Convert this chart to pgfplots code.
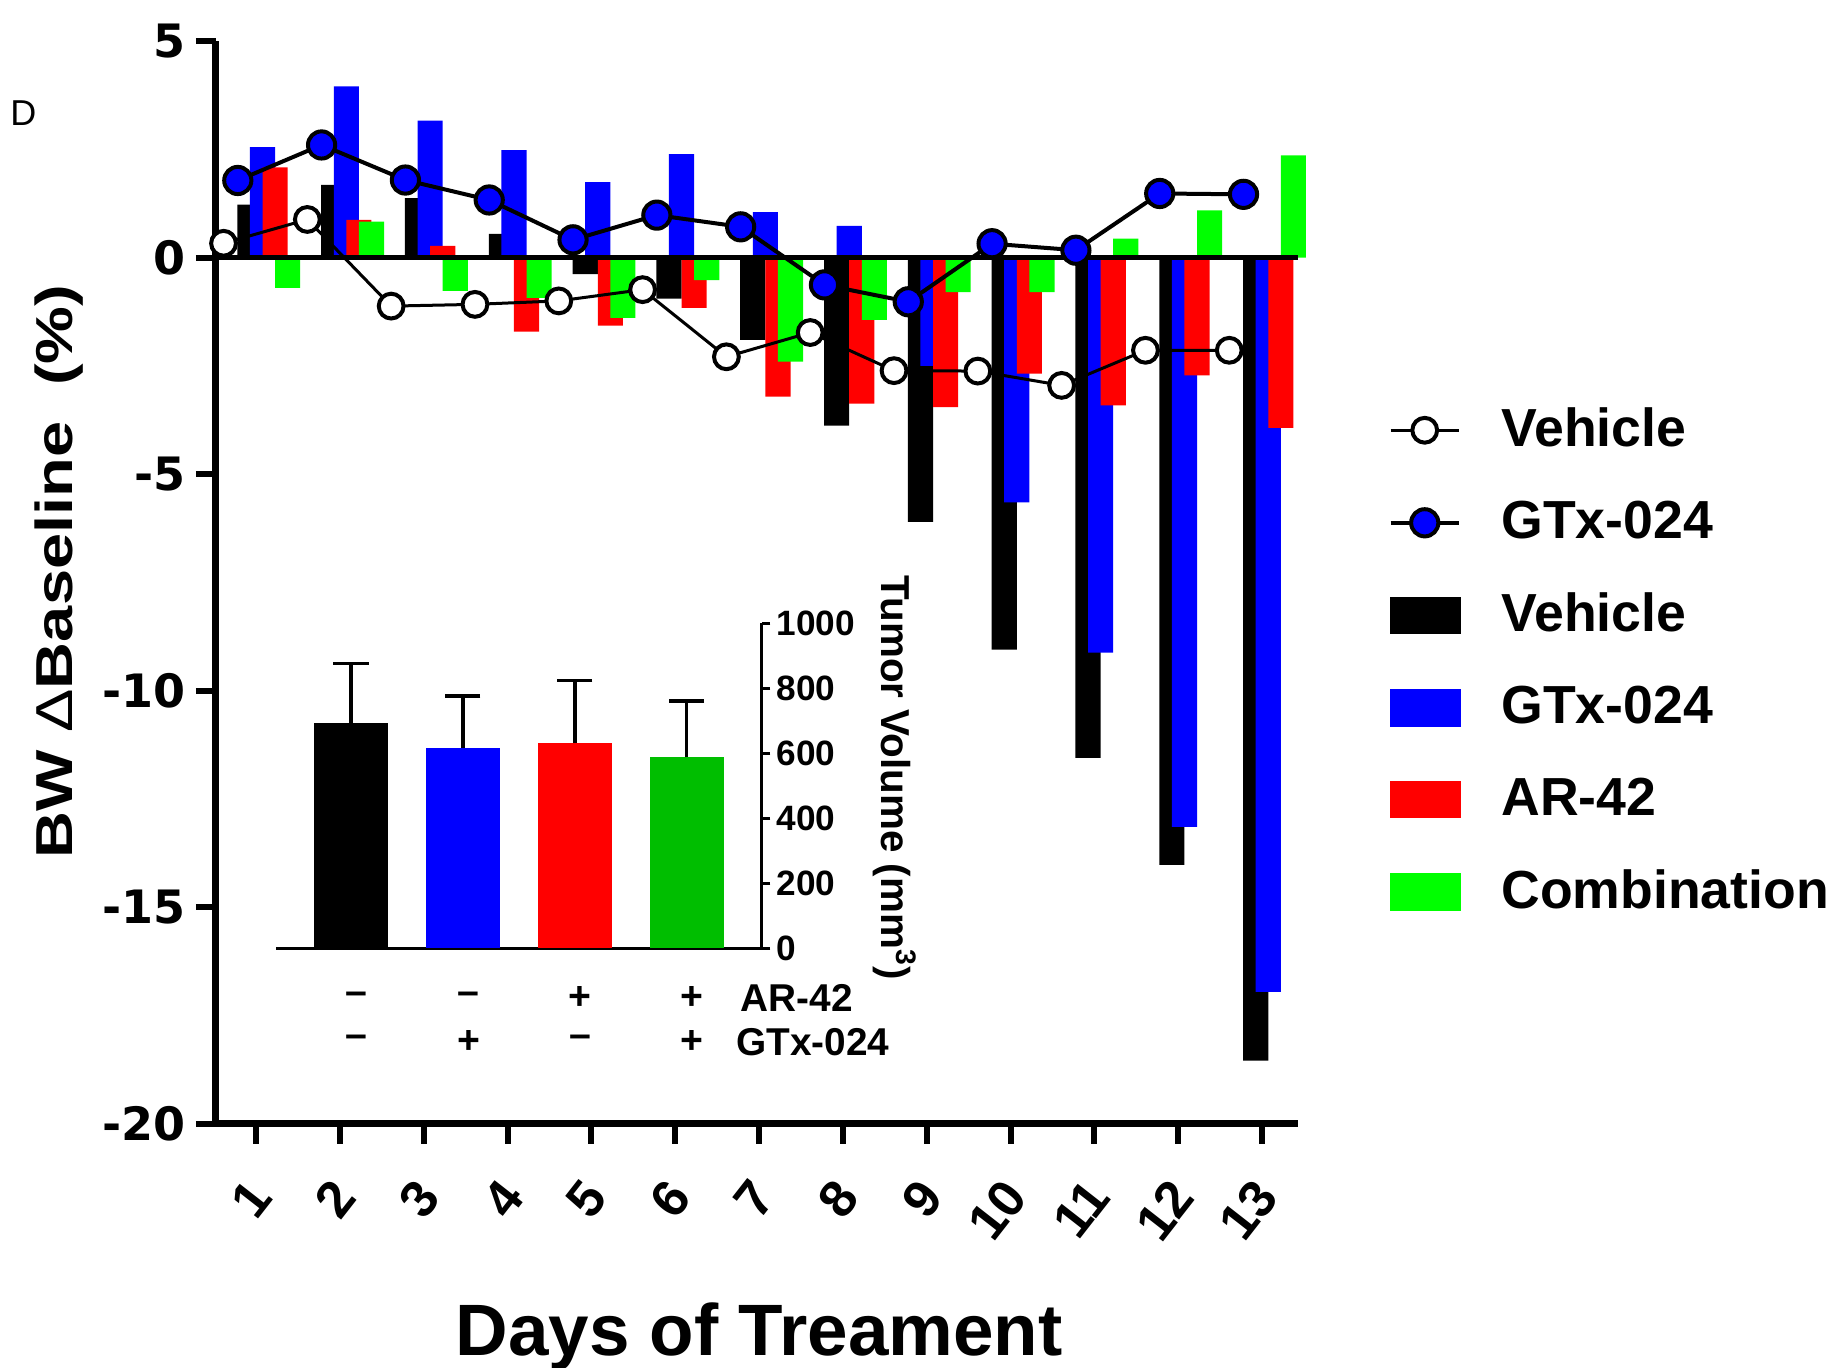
\documentclass[border=0pt]{standalone}
\usepackage{fontspec}
\setmainfont{Liberation Sans}
\newfontfamily\dejavu{DejaVu Sans}
\usepackage{pgfplots}
\pgfplotsset{compat=1.18}
\usepackage{pgfplotstable}

\definecolor{cblue}{RGB}{0,0,255}
\definecolor{cred}{RGB}{255,0,0}
\definecolor{cgreen}{RGB}{0,255,0}
\definecolor{igreen}{RGB}{0,190,0}

\pgfplotstableread{
day veh gtx
1 0.33 1.78
2 0.88 2.60
3 -1.12 1.79
4 -1.08 1.33
5 -1.00 0.41
6 -0.74 0.98
7 -2.29 0.71
8 -1.73 -0.63
9 -2.61 -1.02
10 -2.62 0.32
11 -2.95 0.17
12 -2.14 1.48
13 -2.14 1.46
}\linedata

\pgfplotstableread{
day black blue red green
1 1.22 2.55 2.08 -0.70
2 1.68 3.95 0.87 0.83
3 1.37 3.16 0.27 -0.77
4 0.55 2.48 -1.71 -0.93
5 -0.38 1.74 -1.57 -1.39
6 -0.95 2.39 -1.16 -0.52
7 -1.90 1.05 -3.21 -2.40
8 -3.88 0.73 -3.37 -1.44
9 -6.10 -2.50 -3.45 -0.80
10 -9.05 -5.65 -2.68 -0.80
11 -11.55 -9.12 -3.41 0.44
12 -14.02 -13.14 -2.72 1.09
13 -18.54 -16.95 -3.93 2.36
}\bardata

\begin{document}
\begin{tikzpicture}
\begin{axis}[
  at={(54pt,61pt)}, anchor=south west,
  scale only axis, width=270.5pt, height=270.75pt,
  xmin=0.52, xmax=13.43, ymin=-20, ymax=5,
  axis x line*=bottom, axis y line*=left,
  axis line style={-, line width=1.75pt},
  xtick={1,2,3,4,5,6,7,8,9,10,11,12,13},
  xticklabels={1,2,3,4,5,6,7,8,9,10,11,12,13},
  ytick={-20,-15,-10,-5,0,5},
  yticklabels={-20,-15,-10,-5,0,5},
  tick align=outside, major tick length=5pt,
  tick style={line width=1.5pt, black},
  yticklabel style={font=\dejavu\bfseries\fontsize{11.5}{12}\selectfont, inner sep=0pt, xshift=-2.3pt},
  xticklabel style={font=\bfseries\fontsize{13}{14}\selectfont, rotate=52, anchor=east, inner sep=0pt, yshift=-7.5pt, xshift=-7.7pt},
  xlabel={Days of Treament},
  xlabel style={at={(axis description cs:0.502,-0.196)}, anchor=center, font=\bfseries\fontsize{18.2}{21}\selectfont},
  ylabel={BW {\mdseries Δ}Baseline\ \ (\%)},
  ylabel style={at={(axis description cs:-0.145,0.51)}, anchor=center, font=\bfseries\fontsize{13}{15}\selectfont, xscale=1.25},
  clip=false,
  legend style={draw=none, fill=none, at={(1.083,0.662)}, anchor=north west, inner sep=0pt,
    row sep=12.1pt, column sep=10pt, font=\bfseries\fontsize{13.4}{15}\selectfont, nodes={inner sep=0pt}},
  legend cell align=left,
]
\addlegendimage{line legend, black, line width=0.75pt, mark=*, mark size=3.1pt, mark options={fill=white, draw=black, line width=1pt}}
\addlegendentry{Vehicle}
\addlegendimage{line legend, black, line width=1pt, mark=*, mark size=3.4pt, mark options={fill=cblue, draw=black, line width=1pt}}
\addlegendentry{GTx-024}
\addlegendimage{legend image code/.code={\fill[black] (0pt,-4.5pt) rectangle (17.5pt,4.5pt);}}
\addlegendentry{Vehicle}
\addlegendimage{legend image code/.code={\fill[cblue] (0pt,-4.5pt) rectangle (17.5pt,4.5pt);}}
\addlegendentry{GTx-024}
\addlegendimage{legend image code/.code={\fill[cred] (0pt,-4.5pt) rectangle (17.5pt,4.5pt);}}
\addlegendentry{AR-42}
\addlegendimage{legend image code/.code={\fill[cgreen] (0pt,-4.5pt) rectangle (17.5pt,4.5pt);}}
\addlegendentry{Combination}

\addplot[forget plot, ybar, bar width=0.3, bar shift=-0.075, fill=black, draw=none] table[x=day, y=black] {\bardata};
\addplot[forget plot, ybar, bar width=0.3, bar shift=0.075, fill=cblue, draw=none] table[x=day, y=blue] {\bardata};
\addplot[forget plot, ybar, bar width=0.3, bar shift=0.225, fill=cred, draw=none] table[x=day, y=red] {\bardata};
\addplot[forget plot, ybar, bar width=0.3, bar shift=0.375, fill=cgreen, draw=none] table[x=day, y=green] {\bardata};

\addplot[forget plot, black, line width=1.2pt] coordinates {(0.52,0) (13.43,0)};

\addplot[forget plot, black, line width=0.75pt, mark=*, mark size=3.1pt, mark options={fill=white, draw=black, line width=1pt}] table[x expr=\thisrow{day}-0.39, y=veh] {\linedata};
\addplot[forget plot, black, line width=1pt, mark=*, mark size=3.4pt, mark options={fill=cblue, draw=black, line width=1pt}] table[x expr=\thisrow{day}-0.22, y=gtx] {\linedata};

\node[font=\fontsize{9}{10}\selectfont, anchor=center] at (axis description cs:-0.178,0.933) {D};
\end{axis}

\begin{axis}[
  at={(69pt,104.9pt)}, anchor=south west,
  scale only axis, width=121.4pt, height=81.25pt,
  xmin=-0.67, xmax=3.67, ymin=0, ymax=1000,
  axis x line=bottom, axis y line=right,
  axis line style={-, line width=0.9pt},
  xtick=\empty,
  ytick={0,200,400,600,800,1000},
  yticklabels={0,200,400,600,800,1000},
  tick align=outside, major tick length=2.2pt,
  tick style={line width=0.9pt, black},
  yticklabel style={font=\bfseries\fontsize{8.8}{10}\selectfont, inner sep=0pt, xshift=1.4pt},
  every axis y label/.style={at={(axis description cs:1.274,0.524)}, rotate=-90, anchor=center, font=\bfseries\fontsize{10.1}{11}\selectfont},
  ylabel={Tumor Volume (mm\textsuperscript{3})},
  clip=false,
]
\addplot[ybar, bar width=0.66, bar shift=0, fill=black, draw=none] coordinates {(0,692)};
\addplot[ybar, bar width=0.66, bar shift=0, fill=cblue, draw=none] coordinates {(1,618)};
\addplot[ybar, bar width=0.66, bar shift=0, fill=cred, draw=none] coordinates {(2,631)};
\addplot[ybar, bar width=0.66, bar shift=0, fill=igreen, draw=none] coordinates {(3,588)};
% upper error bars (mean + SEM)
\addplot[black, line width=0.9pt, mark=none] coordinates {(0,692) (0,877)};
\addplot[black, line width=0.9pt, mark=none] coordinates {(1,618) (1,776)};
\addplot[black, line width=0.9pt, mark=none] coordinates {(2,631) (2,824)};
\addplot[black, line width=0.9pt, mark=none] coordinates {(3,588) (3,762)};
\addplot[black, only marks, mark=-, mark size=4.4pt, mark options={line width=0.9pt, draw=black}] coordinates {(0,877) (1,776) (2,824) (3,762)};

\node[font=\bfseries\fontsize{9.8}{11}\selectfont] at (axis cs:0.05,-153) {–};
\node[font=\bfseries\fontsize{9.8}{11}\selectfont] at (axis cs:1.05,-153) {–};
\node[font=\bfseries\fontsize{9.8}{11}\selectfont] at (axis cs:2.05,-153) {+};
\node[font=\bfseries\fontsize{9.8}{11}\selectfont] at (axis cs:3.05,-153) {+};
\node[font=\bfseries\fontsize{9.8}{11}\selectfont] at (axis cs:0.05,-287) {–};
\node[font=\bfseries\fontsize{9.8}{11}\selectfont] at (axis cs:1.05,-287) {+};
\node[font=\bfseries\fontsize{9.8}{11}\selectfont] at (axis cs:2.05,-287) {–};
\node[font=\bfseries\fontsize{9.8}{11}\selectfont] at (axis cs:3.05,-287) {+};
\node[font=\bfseries\fontsize{9.7}{11}\selectfont, anchor=west, inner sep=0pt] at (axis cs:3.477,-153) {AR-42};
\node[font=\bfseries\fontsize{9.7}{11}\selectfont, anchor=west, inner sep=0pt] at (axis cs:3.437,-287) {GTx-024};
\end{axis}
\pgfresetboundingbox
\path[use as bounding box] (0,0) rectangle (460.5pt,342pt);
\end{tikzpicture}
\end{document}
